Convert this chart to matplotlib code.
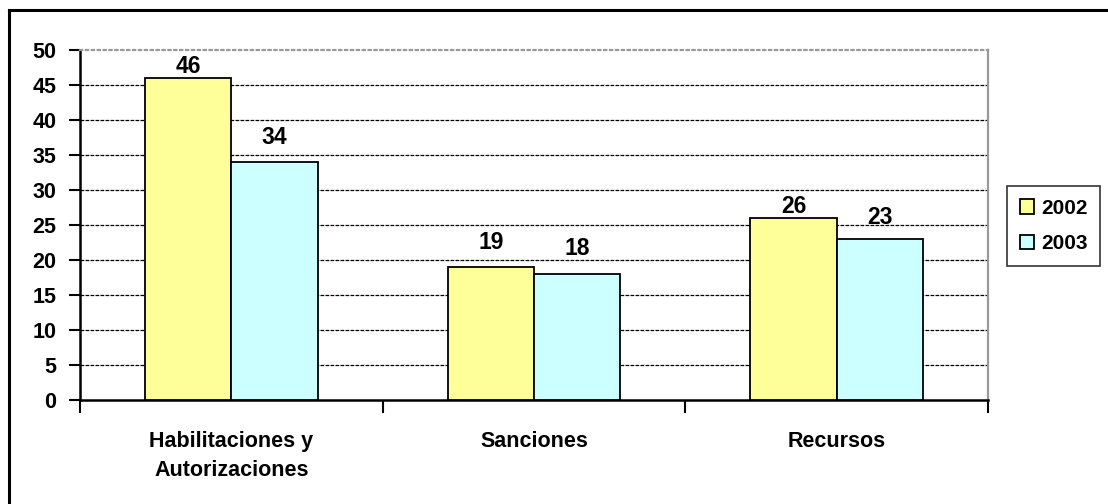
import numpy as np
import matplotlib.pyplot as plt
from matplotlib.lines import Line2D

categories = ["Habilitaciones y\nAutorizaciones", "Sanciones", "Recursos"]
series_names = ["2002", "2003"]
values_2002 = [46, 19, 26]
values_2003 = [34, 18, 23]
y_ticks = [0, 5, 10, 15, 20, 25, 30, 35, 40, 45, 50]

colors = ["#FFFF99", "#CCFFFF"]
# label offsets above the bar tops (points)
label_offsets = [[0, 9, 0], [9, 10, 7]]

plt.rcParams['font.family'] = ['Liberation Sans', 'DejaVu Sans']
plt.rcParams['font.weight'] = 'bold'

fig = plt.figure(figsize=(11.08, 5.04), dpi=100)
ax = fig.add_axes([80 / 1108, 1 - 400 / 504, 908 / 1108, 350 / 504])

x = np.arange(len(categories))
w = 0.285
for i, vals in enumerate([values_2002, values_2003]):
    pos = x + (i - 0.5) * w
    ax.bar(pos, vals, width=w, color=colors[i], edgecolor='black',
           linewidth=1.3, label=series_names[i], zorder=3)
    for p, v, off in zip(pos, vals, label_offsets[i]):
        ax.annotate(str(v), (p, v), xytext=(0, off), textcoords='offset points',
                    ha='center', va='bottom', fontsize=16.5, fontweight='bold')

ax.set_xlim(-0.5, len(categories) - 0.5)
ax.set_ylim(0, 50)
ax.set_yticks(y_ticks)
ax.set_yticklabels([str(t) for t in y_ticks], fontsize=15.5, fontweight='bold')
ax.set_xticks(np.arange(len(categories) + 1) - 0.5)
ax.set_xticklabels([])
ax.set_xticks(x, minor=True)
ax.set_xticklabels(categories, minor=True, fontsize=15.5, fontweight='bold',
                   linespacing=1.55)
ax.tick_params(axis='x', which='minor', length=0, pad=22)
ax.tick_params(axis='x', which='major', length=9, width=1.5, direction='out')
ax.tick_params(axis='y', length=8, width=1.5, direction='out', pad=9)

for t in y_ticks[1:-1]:
    ax.axhline(t, color='black', linestyle=(0, (3, 1)), linewidth=0.9, zorder=1)

ax.spines['left'].set_linewidth(1.8)
ax.spines['bottom'].set_linewidth(1.8)
ax.spines['top'].set_color('#999999')
ax.spines['top'].set_linestyle(':')
ax.spines['top'].set_linewidth(1.6)
ax.spines['right'].set_color('#999999')
ax.spines['right'].set_linewidth(1.6)

leg = ax.legend(loc='center left', bbox_to_anchor=(927 / 908, 0.497),
                frameon=True, fancybox=False, edgecolor='black',
                prop={'size': 15, 'weight': 'bold'}, handlelength=0.7,
                handleheight=0.7, handletextpad=0.35, labelspacing=0.8,
                borderpad=0.6, borderaxespad=0)
leg.get_frame().set_linewidth(1.2)

# outer chart border (left and top edges visible)
fig.add_artist(Line2D([9 / 1108, 9 / 1108], [0, 1 - 10 / 504], color='black',
                      linewidth=2.2, transform=fig.transFigure))
fig.add_artist(Line2D([9 / 1108, 1], [1 - 10 / 504, 1 - 10 / 504], color='black',
                      linewidth=2.2, transform=fig.transFigure))

fig.savefig("out.png", dpi=100)
